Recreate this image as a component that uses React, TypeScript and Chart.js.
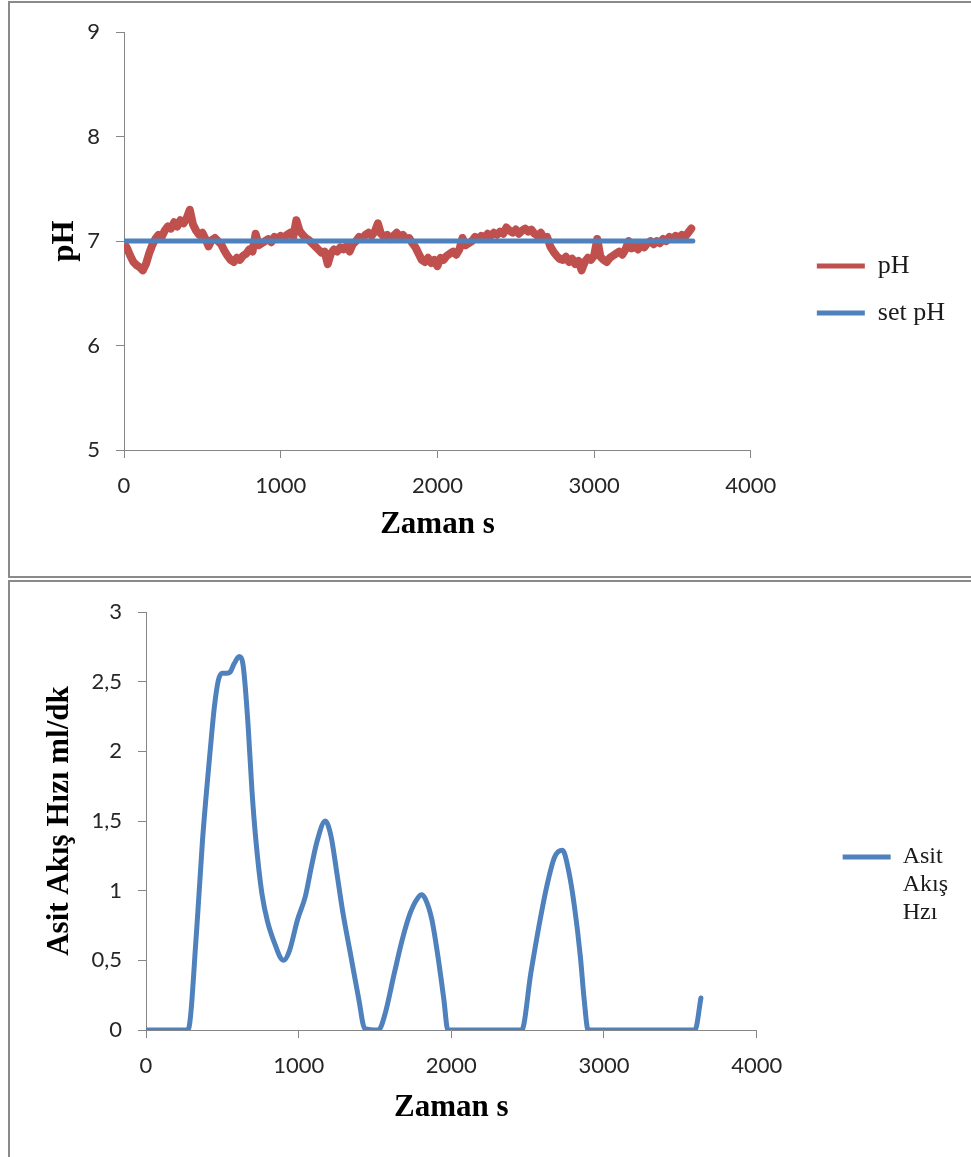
import React, { useEffect, useRef } from "react";
import { Chart, registerables } from "chart.js";

Chart.register(...registerables);

// ---------- data: top chart (pH) ----------
const phTime = [
  0, 20, 40, 60, 80, 100, 120, 140, 160, 180,
  200, 220, 240, 260, 280, 300, 320, 340, 360, 380,
  400, 420, 440, 460, 480, 500, 520, 540, 560, 580,
  600, 620, 640, 660, 680, 700, 720, 740, 760, 780,
  800, 820, 840, 860, 880, 900, 920, 940, 960, 980,
  1000, 1020, 1040, 1060, 1080, 1100, 1120, 1140, 1160, 1180,
  1200, 1220, 1240, 1260, 1280, 1300, 1320, 1340, 1360, 1380,
  1400, 1420, 1440, 1460, 1480, 1500, 1520, 1540, 1560, 1580,
  1600, 1620, 1640, 1660, 1680, 1700, 1720, 1740, 1760, 1780,
  1800, 1820, 1840, 1860, 1880, 1900, 1920, 1940, 1960, 1980,
  2000, 2020, 2040, 2060, 2080, 2100, 2120, 2140, 2160, 2180,
  2200, 2220, 2240, 2260, 2280, 2300, 2320, 2340, 2360, 2380,
  2400, 2420, 2440, 2460, 2480, 2500, 2520, 2540, 2560, 2580,
  2600, 2620, 2640, 2660, 2680, 2700, 2720, 2740, 2760, 2780,
  2800, 2820, 2840, 2860, 2880, 2900, 2920, 2940, 2960, 2980,
  3000, 3020, 3040, 3060, 3080, 3100, 3120, 3140, 3160, 3180,
  3200, 3220, 3240, 3260, 3280, 3300, 3320, 3340, 3360, 3380,
  3400, 3420, 3440, 3460, 3480, 3500, 3520, 3540, 3560, 3580,
  3600, 3620,
];
const phValues = [
  6.98, 6.93, 6.86, 6.80, 6.77, 6.75, 6.72, 6.78, 6.88, 6.96,
  7.02, 7.06, 7.04, 7.10, 7.14, 7.12, 7.18, 7.14, 7.20, 7.17,
  7.22, 7.30, 7.16, 7.10, 7.06, 7.08, 7.02, 6.95, 7.01, 7.03,
  7.00, 6.97, 6.91, 6.86, 6.82, 6.80, 6.84, 6.82, 6.86, 6.88,
  6.92, 6.90, 7.07, 6.96, 6.98, 7.00, 7.02, 6.99, 7.04, 7.02,
  7.05, 7.03, 7.06, 7.08, 7.04, 7.20, 7.10, 7.06, 7.03, 7.01,
  6.98, 6.95, 6.92, 6.89, 6.90, 6.78, 6.88, 6.92, 6.90, 6.94,
  6.92, 6.95, 6.90, 6.97, 7.00, 7.04, 7.02, 7.06, 7.08, 7.05,
  7.09, 7.17, 7.07, 7.04, 7.06, 7.02, 7.05, 7.08, 7.04, 7.06,
  7.02, 7.03, 6.98, 6.94, 6.88, 6.82, 6.80, 6.84, 6.79, 6.82,
  6.76, 6.84, 6.82, 6.86, 6.88, 6.90, 6.87, 6.92, 7.03, 6.96,
  6.98, 7.00, 7.04, 7.02, 7.05, 7.03, 7.07, 7.05, 7.08, 7.06,
  7.09, 7.07, 7.13, 7.10, 7.08, 7.11, 7.07, 7.10, 7.12, 7.09,
  7.11, 7.07, 7.05, 7.08, 7.03, 7.04, 6.95, 6.90, 6.86, 6.83,
  6.82, 6.85, 6.80, 6.83, 6.78, 6.81, 6.72, 6.80, 6.84, 6.82,
  6.86, 7.02, 6.85, 6.82, 6.80, 6.84, 6.86, 6.88, 6.90, 6.87,
  6.92, 7.00, 6.93, 6.95, 6.92, 6.96, 6.94, 6.98, 7.00, 6.97,
  7.00, 6.98, 7.02, 7.00, 7.04, 7.02, 7.05, 7.03, 7.06, 7.04,
  7.08, 7.12,
];
const setTime = [0, 3630];
const setValues = [7, 7];
const phSeriesNames = ["pH", "set pH"];
const phAxisTitle = "pH";
const phRange = { min: 5, max: 9, step: 1 };

// ---------- data: bottom chart (acid flow) ----------
const flowTime = [
  0, 275, 332, 370, 420, 448, 474, 500, 530, 552, 578, 611, 637, 668, 694,
  720, 759, 798, 850, 880, 902, 940, 992, 1044, 1083, 1122, 1174, 1212,
  1251, 1290, 1342, 1394, 1433, 1523, 1562, 1627, 1679, 1731, 1782, 1805, 1830,
  1873, 1912, 1951, 1977, 2461, 2521, 2573, 2625, 2676, 2728, 2767, 2806,
  2845, 2870, 2896, 3596, 3635,
];
const flowValues = [
  0, 0, 0.72, 1.36, 2.0, 2.32, 2.51, 2.56, 2.56, 2.57, 2.63, 2.68, 2.61, 2.2, 1.72,
  1.36, 0.98, 0.77, 0.6, 0.52, 0.5, 0.57, 0.79, 0.96, 1.17, 1.36, 1.5, 1.39,
  1.12, 0.84, 0.53, 0.22, 0.01, 0, 0.1, 0.41, 0.65, 0.84, 0.95, 0.97, 0.94,
  0.79, 0.53, 0.22, 0, 0, 0.41, 0.74, 1.03, 1.24, 1.29, 1.15, 0.89,
  0.53, 0.22, 0, 0, 0.23,
];
const flowSeriesName = "Asit Akış Hzı";
const flowLegendLines = ["Asit", "Akış", "Hzı"];
const flowAxisTitle = "Asit Akış Hızı ml/dk";
const flowRange = { min: 0, max: 3, step: 0.5 };

const timeAxisTitle = "Zaman s";
const timeRange = { min: 0, max: 4000, step: 1000 };

// ---------- styles ----------
const RED = "#C0504D";
const BLUE = "#4F81BD";
const AXIS = "#868686";
const TICK_TEXT = "#262626";
const SERIF = "'Liberation Serif', 'Times New Roman', serif";
const SANS = "Lato, 'Open Sans', sans-serif";

const toPts = (xs: number[], ys: number[]) => xs.map((x, i) => ({ x, y: ys[i] }));

function spacer(position: string, size: number) {
  return {
    type: "linear",
    position,
    display: true,
    grid: { display: false },
    ticks: { display: false },
    border: { display: false },
    afterFit: (s: any) => {
      if (position === "top" || position === "bottom") s.height = size;
      else s.width = size;
    },
  };
}

function xAxis(height: number, titlePad: number) {
  return {
    type: "linear",
    min: timeRange.min,
    max: timeRange.max,
    ticks: {
      stepSize: timeRange.step,
      font: { family: SANS, size: 22 },
      color: TICK_TEXT,
      padding: 15,
      maxRotation: 0,
      callback: (v: any) => String(v),
    },
    grid: { drawOnChartArea: false, drawTicks: true, tickLength: 8, color: AXIS },
    border: { display: true, color: AXIS, width: 1 },
    title: {
      display: true,
      text: timeAxisTitle,
      font: { family: SERIF, size: 31, weight: "bold" },
      color: "#000",
      padding: { top: 0, bottom: titlePad },
    },
    afterFit: (s: any) => {
      s.height = height;
    },
  };
}

function yAxis(range: any, title: string, width: number, titlePad: number, fmt?: (v: number) => string) {
  return {
    type: "linear",
    min: range.min,
    max: range.max,
    ticks: {
      stepSize: range.step,
      font: { family: SANS, size: 22 },
      color: TICK_TEXT,
      padding: 16,
      callback: (v: any) => (fmt ? fmt(Number(v)) : String(v)),
    },
    grid: { drawOnChartArea: false, drawTicks: true, tickLength: 8, color: AXIS },
    border: { display: true, color: AXIS, width: 1 },
    title: {
      display: true,
      text: title,
      font: { family: SERIF, size: 31, weight: "bold" },
      color: "#000",
      padding: { top: titlePad, bottom: 0 },
    },
    afterFit: (s: any) => {
      s.width = width;
    },
  };
}

export default function App() {
  const topRef = useRef<HTMLCanvasElement>(null);
  const botRef = useRef<HTMLCanvasElement>(null);

  useEffect(() => {
    const top = new Chart(topRef.current as HTMLCanvasElement, {
      type: "line",
      data: {
        datasets: [
          {
            label: phSeriesNames[0],
            data: toPts(phTime, phValues),
            borderColor: RED,
            backgroundColor: RED,
            borderWidth: 8,
            pointRadius: 0,
            borderCapStyle: "round",
            borderJoinStyle: "round",
            tension: 0,
            order: 1,
          },
          {
            label: phSeriesNames[1],
            data: toPts(setTime, setValues),
            borderColor: BLUE,
            backgroundColor: BLUE,
            borderWidth: 5,
            pointRadius: 0,
            borderCapStyle: "round",
            order: 0,
          },
        ],
      },
      options: {
        animation: false,
        responsive: false,
        layout: { padding: { left: 0, top: 0, right: 15, bottom: 0 } },
        plugins: {
          tooltip: { enabled: false },
          legend: {
            position: "right",
            align: "center",
            labels: {
              usePointStyle: true,
              pointStyle: "line",
              pointStyleWidth: 48,
              padding: 21,
              color: "#1a1a1a",
              font: { family: SERIF, size: 26 },
              sort: (a: any, b: any) => a.datasetIndex - b.datasetIndex,
              generateLabels: (chart: any) =>
                (Chart.defaults.plugins.legend.labels.generateLabels as any)(chart).map((it: any) => ({
                  ...it,
                  lineWidth: 5,
                })),
            },
          },
        },
        scales: {
          x: xAxis(126, 32),
          y: yAxis(phRange, phAxisTitle, 114, 36),
          x2: spacer("top", 28),
          y2: spacer("right", 45),
        },
      } as any,
    });

    const bot = new Chart(botRef.current as HTMLCanvasElement, {
      type: "line",
      data: {
        datasets: [
          {
            label: flowSeriesName,
            data: toPts(flowTime, flowValues),
            borderColor: BLUE,
            backgroundColor: BLUE,
            borderWidth: 5,
            pointRadius: 0,
            borderCapStyle: "round",
            borderJoinStyle: "round",
            cubicInterpolationMode: "monotone",
          },
        ],
      },
      options: {
        animation: false,
        responsive: false,
        layout: { padding: { left: 0, top: 0, right: 10, bottom: 0 } },
        plugins: {
          tooltip: { enabled: false },
          legend: {
            position: "right",
            align: "center",
            labels: {
              usePointStyle: true,
              pointStyle: "line",
              pointStyleWidth: 48,
              padding: 21,
              color: "#1a1a1a",
              font: { family: SERIF, size: 24, lineHeight: 1.17 },
              generateLabels: (chart: any) =>
                (Chart.defaults.plugins.legend.labels.generateLabels as any)(chart).map((it: any) => ({
                  ...it,
                  text: flowLegendLines,
                })),
            },
          },
        },
        scales: {
          x: xAxis(162, 65),
          y: yAxis(flowRange, flowAxisTitle, 136, 31, (v) => String(v).replace(".", ",")),
          x2: spacer("top", 30),
          y2: spacer("right", 65),
        },
      } as any,
    });

    return () => {
      top.destroy();
      bot.destroy();
    };
  }, []);

  const boxStyle: React.CSSProperties = {
    border: "2px solid #8a8a8a",
    width: 966,
    background: "#fff",
  };

  return (
    <div style={{ position: "absolute", left: 8, top: 1, height: 1156, overflow: "hidden", width: 963 }}>
      <div style={{ ...boxStyle, height: 573 }}>
        <canvas ref={topRef} width={958} height={573} style={{ display: "block" }} />
      </div>
      <div style={{ ...boxStyle, height: 610, marginTop: 2 }}>
        <canvas ref={botRef} width={958} height={610} style={{ display: "block" }} />
      </div>
    </div>
  );
}
